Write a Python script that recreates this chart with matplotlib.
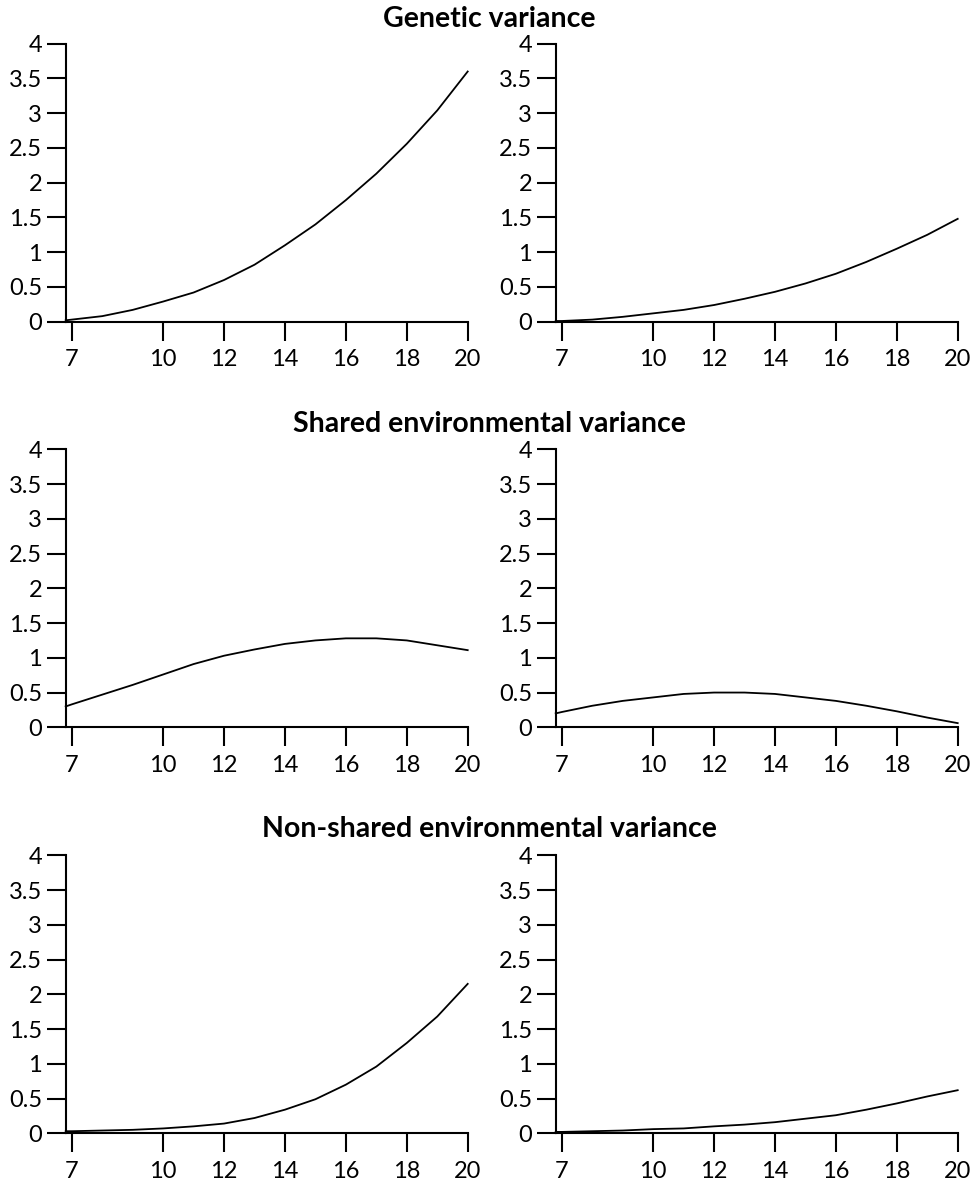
import matplotlib.pyplot as plt

plt.rcParams['font.family'] = ['Lato', 'DejaVu Sans']

# ages (x axis)
AGE = [6.8, 7, 8, 9, 10, 11, 12, 13, 14, 15, 16, 17, 18, 19, 20]

# Genetic variance
GEN_LEFT = [0.02, 0.03, 0.08, 0.17, 0.29, 0.42, 0.60, 0.82, 1.10, 1.40, 1.75, 2.13, 2.56, 3.04, 3.60]
GEN_RIGHT = [0.01, 0.01, 0.03, 0.07, 0.12, 0.17, 0.24, 0.33, 0.43, 0.55, 0.69, 0.86, 1.05, 1.25, 1.48]

# Shared environmental variance
SHARED_LEFT = [0.30, 0.33, 0.47, 0.61, 0.76, 0.91, 1.03, 1.12, 1.20, 1.25, 1.28, 1.28, 1.25, 1.18, 1.11]
SHARED_RIGHT = [0.20, 0.22, 0.31, 0.38, 0.43, 0.48, 0.50, 0.50, 0.48, 0.43, 0.38, 0.31, 0.23, 0.14, 0.06]

# Non-shared environmental variance
NONSHARED_LEFT = [0.03, 0.03, 0.04, 0.05, 0.07, 0.10, 0.14, 0.22, 0.34, 0.49, 0.70, 0.96, 1.30, 1.68, 2.15]
NONSHARED_RIGHT = [0.02, 0.02, 0.03, 0.04, 0.06, 0.07, 0.10, 0.125, 0.16, 0.21, 0.26, 0.34, 0.43, 0.53, 0.62]

TITLES = ["Genetic variance", "Shared environmental variance", "Non-shared environmental variance"]
ROWS = [(GEN_LEFT, GEN_RIGHT), (SHARED_LEFT, SHARED_RIGHT), (NONSHARED_LEFT, NONSHARED_RIGHT)]

X_TICKS = [7, 10, 12, 14, 16, 18, 20]
Y_TICKS = [0, 0.5, 1, 1.5, 2, 2.5, 3, 3.5, 4]
Y_LABELS = ["0", "0.5", "1", "1.5", "2", "2.5", "3", "3.5", "4"]

W, H = 978, 1182
fig = plt.figure(figsize=(W / 100, H / 100), dpi=100)

col_left = [65.7, 555.7]
ax_w = 402
ax_h = 278
row_bottom = [321.7, 727.3, 1133.3]   # pixel position (from top) of y=0
title_base = [27, 432, 837]


def style_axis(ax):
    for s in ['top', 'right']:
        ax.spines[s].set_visible(False)
    for s in ['left', 'bottom']:
        ax.spines[s].set_linewidth(1.5)
    ax.set_xlim(6.8, 20)
    ax.set_ylim(0, 4)
    ax.set_xticks(X_TICKS)
    ax.set_yticks(Y_TICKS)
    ax.set_yticklabels(Y_LABELS)
    ax.tick_params(axis='both', direction='out', length=14, width=1.5,
                   labelsize=17, colors='black')
    ax.tick_params(axis='x', pad=6)
    ax.tick_params(axis='y', pad=3)


for r, (left_vals, right_vals) in enumerate(ROWS):
    for c, vals in enumerate([left_vals, right_vals]):
        x0 = col_left[c] / W
        y0 = (H - row_bottom[r]) / H
        ax = fig.add_axes([x0, y0, ax_w / W, ax_h / H])
        ax.plot(AGE, vals, color='black', linewidth=1.3, clip_on=False)
        style_axis(ax)
    fig.text(0.5, (H - title_base[r]) / H, TITLES[r], ha='center', va='baseline',
             fontsize=20.5, fontweight='bold')

fig.savefig("out.png", dpi=100)
